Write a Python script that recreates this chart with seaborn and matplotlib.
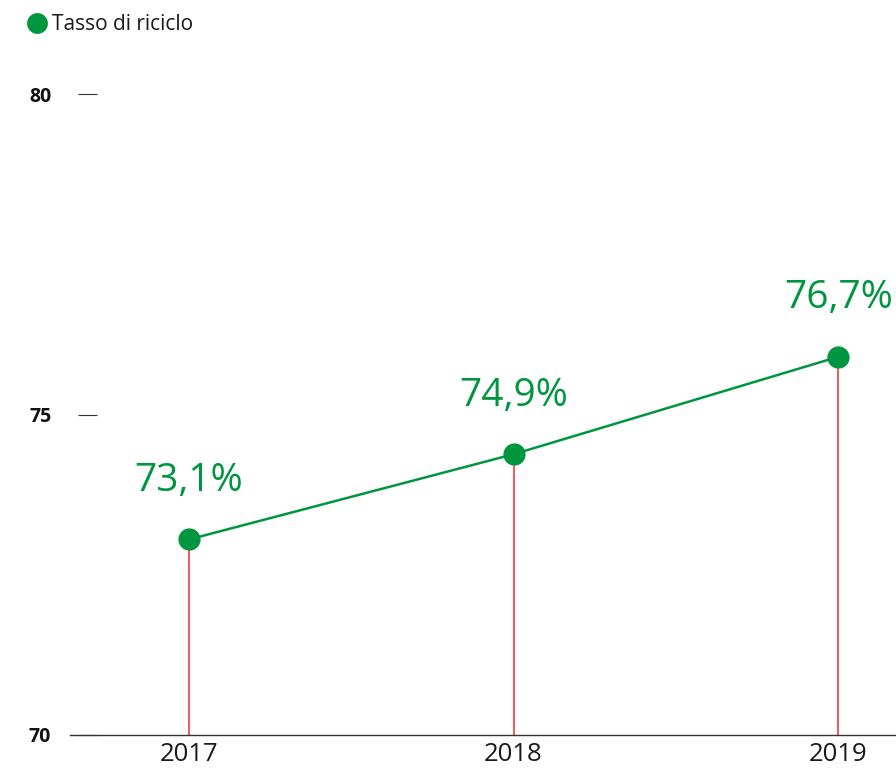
import matplotlib
matplotlib.use("Agg")
import matplotlib.pyplot as plt
from matplotlib.lines import Line2D
import pandas as pd
import seaborn as sns

# dati
anni = ["2017", "2018", "2019"]
tasso = [73.05, 74.38, 75.9]          # posizione dei punti nel grafico
etichette = ["73,1%", "74,9%", "76,7%"]
serie = "Tasso di riciclo"

verde = "#00963f"
rosso = "#e8606a"

df = pd.DataFrame({"pos": range(len(anni)), "anno": anni, "tasso": tasso})

sns.set_style("white")
plt.rcParams["font.family"] = ["Open Sans", "DejaVu Sans"]

fig = plt.figure(figsize=(8.96, 7.69), dpi=100)
ax = fig.add_axes([70 / 896, 34 / 769, 826 / 896, 641 / 769])

# spine sinistra spostata prima di impostare i tick (set_position li resetta)
for s in ["top", "right", "left"]:
    ax.spines[s].set_visible(False)
ax.spines["left"].set_position(("outward", -19.5))
ax.spines["bottom"].set_color("#333333")
ax.spines["bottom"].set_linewidth(1)

# linee verticali rosse dal punto all'asse
ax.vlines(df["pos"], 70, df["tasso"], color=rosso, linewidth=1.5, zorder=1)

sns.lineplot(data=df, x="pos", y="tasso", ax=ax, color=verde, linewidth=1.8,
             marker="o", markersize=16, markeredgewidth=0, zorder=3)

for _, r in df.iterrows():
    ax.annotate(etichette[r["pos"]], (r["pos"], r["tasso"]), xytext=(0, 28.5),
                textcoords="offset points", ha="center", va="bottom",
                fontsize=28, color=verde)

ax.set_xlim(-0.366, 2.178)
ax.set_ylim(70, 80)
ax.set_xticks(df["pos"])
ax.set_xticklabels(anni, fontsize=18.5, color="#1a1a1a")
ax.set_yticks([70, 75, 80])
ax.set_yticklabels(["70", "75", "80"], fontsize=14, fontweight="bold", color="#111111")
ax.set_xlabel("")
ax.set_ylabel("")

ax.tick_params(axis="y", left=True, direction="out", length=14, width=0.8,
               color="#333333", pad=19)
ax.tick_params(axis="x", bottom=False, length=0, pad=5)

handle = Line2D([], [], linestyle="none", marker="o", markersize=15,
                color=verde, markeredgewidth=0)
fig.legend([handle], [serie], loc="upper left", bbox_to_anchor=(0.02, 0.992),
           frameon=False, fontsize=15, handletextpad=0.25, borderaxespad=0,
           handlelength=1.0, labelcolor="#1a1a1a")

fig.savefig("out.png", dpi=100)
